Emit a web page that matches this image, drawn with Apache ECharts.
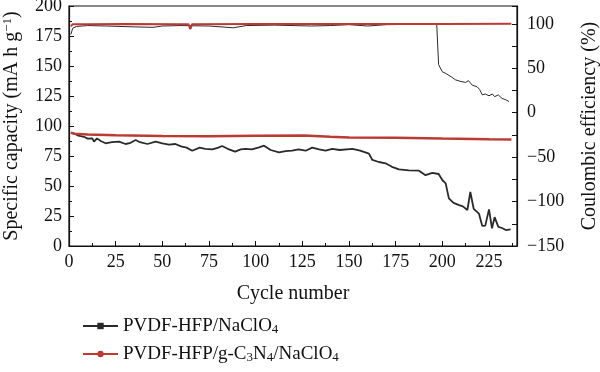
<!DOCTYPE html>
<html>
<head>
<meta charset="utf-8">
<script src="https://cdn.jsdelivr.net/npm/echarts@6/dist/echarts.min.js"></script>
<style>html,body{margin:0;padding:0;background:#fff}#c{width:600px;height:372px}</style>
</head>
<body>
<div id="c"></div>
<script>
// ---- data ----
const seriesNames = ['PVDF-HFP/NaClO4', 'PVDF-HFP/g-C3N4/NaClO4'];

// PVDF-HFP/NaClO4 specific capacity (mA h g-1)
const capCyclesA = [1,3,5,8,10,12.5,13.4,15,17,19.6,23,26.8,30.3,33,35.7,38,42,46.4,50,53.6,57,60,63,66,70,73,76.8,80,82,85,89,92,94.5,98,101.8,104.5,108,112.5,116,119.5,123,126.8,130.3,134,137.5,141,145,151.8,156,160.7,162.5,166,169.6,173,176.8,182,187.5,191,194.6,198,200,201.8,203.5,206,209,211,213.4,215,216.8,219.6,221.4,223,224,225,226.6,228,230,232,234,236.6];
const capValuesA = [94.4,93.5,92,91,89.5,89.7,86.9,89.7,87.5,85.6,86.5,87,85,86,88.3,86.5,85,87,85.5,84.4,85,83,82,79.4,82,81,80.6,82,83.3,81,78.6,80.5,81,80.5,82.2,83.6,80,78,79,79.4,80.5,79.4,82,80.5,79.4,81,80,81,79.5,77,71.7,70,68.9,66,63.9,63,62.8,59,61,60,55,52.2,39.7,36,34,33,30,45,31,27,16.7,17,16.7,30.5,14.7,24,16,15,13.3,13.9];

// PVDF-HFP/g-C3N4/NaClO4 specific capacity
const capCyclesB = [1,3,10,25,50,75,100,126,140,150,175,200,225,237];
const capValuesB = [94.5,93.5,93,92.3,91.7,91.5,91.8,92,91,90.5,90.3,89.5,89,88.8];

// PVDF-HFP/NaClO4 coulombic efficiency (%)
const ceCyclesA = [1,2,4,10,20,35,45,50,60,75,88,95,110,130,140,150,160,170,190,197,198,200,202,205,207,210,212.5,214,215,216,218.7,220,221.4,223,225,226.8,228,230,232,234,235.7];
const ceValuesA = [88,95,97,98,97.5,96.5,96,97.5,98,97.5,95.5,98,98.5,97.5,98,99,97.5,99,99.5,99.5,54,46,44,40,37,35,34,36,38,31,29,26,20,21,19,21,18,20,16,14.5,12.5];

// PVDF-HFP/g-C3N4/NaClO4 coulombic efficiency
const ceCyclesB = [1,2,10,30,60,64,65,66,100,150,200,237];
const ceValuesB = [97,99.5,99.6,99.7,99.6,99.5,94,99.6,99.8,99.8,99.7,100];

const capTicks = [0,25,50,75,100,125,150,175,200];
const ceTicks = [-150,-100,-50,0,50,100];
const cycleTicks = [0,25,50,75,100,125,150,175,200,225];

const pairs = (xs, ys) => xs.map((x, i) => [x, ys[i]]);
const FONT = '"Liberation Serif", "Times New Roman", serif';
const BLACK = '#2a2a2a';
const RED = '#bb3a34';

const richSub = { sub: { fontSize: 13, fontFamily: FONT, color: '#111', lineHeight: 14, padding: [7, 0, 0, 0] } };
const fmtName = n => n.replace(/(C)3/g, '$1{sub|3}').replace(/N4/g, 'N{sub|4}').replace(/O4/g, 'O{sub|4}');

const chart = echarts.init(document.getElementById('c'), null, { renderer: 'canvas' });
chart.setOption({
  animation: false,
  backgroundColor: '#fff',
  grid: { left: 69, right: 83, top: 6, bottom: 126, show: true, borderColor: '#111', borderWidth: 1.2,
    backgroundColor: 'transparent', containLabel: false, outerBoundsMode: 'none' },
  legend: {
    data: seriesNames,
    orient: 'vertical',
    left: 77,
    top: 310,
    width: 400,
    height: 62,
    itemWidth: 35,
    itemHeight: 8,
    itemGap: 6,
    formatter: fmtName,
    textStyle: { fontFamily: FONT, fontSize: 19, color: '#111', lineHeight: 22, rich: richSub }
  },
  xAxis: {
    type: 'value', min: 0, max: 240, interval: 25,
    name: 'Cycle number', nameLocation: 'middle', nameGap: 38,
    nameTextStyle: { fontFamily: FONT, fontSize: 20, color: '#111' },
    axisLine: { lineStyle: { color: '#111', width: 1.2 } },
    axisTick: { inside: true, length: 5, lineStyle: { color: '#111' } },
    minorTick: { show: true, splitNumber: 2, length: 3, lineStyle: { color: '#111' } },
    splitLine: { show: false },
    axisLabel: { fontFamily: FONT, fontSize: 18, color: '#111', margin: 7,
      formatter: v => cycleTicks.includes(v) ? String(v) : '' }
  },
  yAxis: [{
    type: 'value', min: 0, max: 200, interval: 25, position: 'left',
    name: 'Specific capacity (mA h g{sup|−1})', nameLocation: 'middle', nameGap: 46,
    nameTextStyle: { fontFamily: FONT, fontSize: 20, color: '#111',
      rich: { sup: { fontSize: 13, fontFamily: FONT, color: '#111', padding: [0, 0, 9, 0] } } },
    axisLine: { show: true, lineStyle: { color: '#111', width: 1.2 } },
    axisTick: { inside: true, length: 5, lineStyle: { color: '#111' } },
    minorTick: { show: true, splitNumber: 2, length: 3, lineStyle: { color: '#111' } },
    splitLine: { show: false },
    axisLabel: { fontFamily: FONT, fontSize: 18, color: '#111', margin: 7,
      formatter: v => capTicks.includes(v) ? String(v) : '' }
  }, {
    type: 'value', min: -150, max: 120, interval: 25, position: 'right',
    name: 'Coulombic efficiency (%)', nameLocation: 'middle', nameGap: 63,
    nameTextStyle: { fontFamily: FONT, fontSize: 20, color: '#111' },
    axisLine: { show: true, lineStyle: { color: '#111', width: 1.2 } },
    axisTick: { inside: true, length: 5, lineStyle: { color: '#111' } },
    splitLine: { show: false },
    axisLabel: { fontFamily: FONT, fontSize: 18, color: '#111', margin: 10,
      formatter: v => ceTicks.includes(v) ? String(v).replace('-', '−') : '' }
  }],
  series: [
    { name: seriesNames[0], type: 'line', yAxisIndex: 0, data: pairs(capCyclesA, capValuesA),
      symbol: 'rect', symbolSize: 6, showSymbol: false, color: BLACK,
      lineStyle: { color: BLACK, width: 1.8 }, z: 2 },
    { name: seriesNames[0], type: 'line', yAxisIndex: 1, data: pairs(ceCyclesA, ceValuesA),
      symbol: 'rect', symbolSize: 6, showSymbol: false, color: BLACK,
      lineStyle: { color: BLACK, width: 1 }, z: 2 },
    { name: seriesNames[1], type: 'line', yAxisIndex: 0, data: pairs(capCyclesB, capValuesB),
      symbol: 'circle', symbolSize: 6, showSymbol: false, color: RED,
      lineStyle: { color: RED, width: 2.5 }, z: 3 },
    { name: seriesNames[1], type: 'line', yAxisIndex: 1, data: pairs(ceCyclesB, ceValuesB),
      symbol: 'circle', symbolSize: 6, showSymbol: false, color: RED,
      lineStyle: { color: RED, width: 2 }, z: 3 }
  ]
});
</script>
</body>
</html>
